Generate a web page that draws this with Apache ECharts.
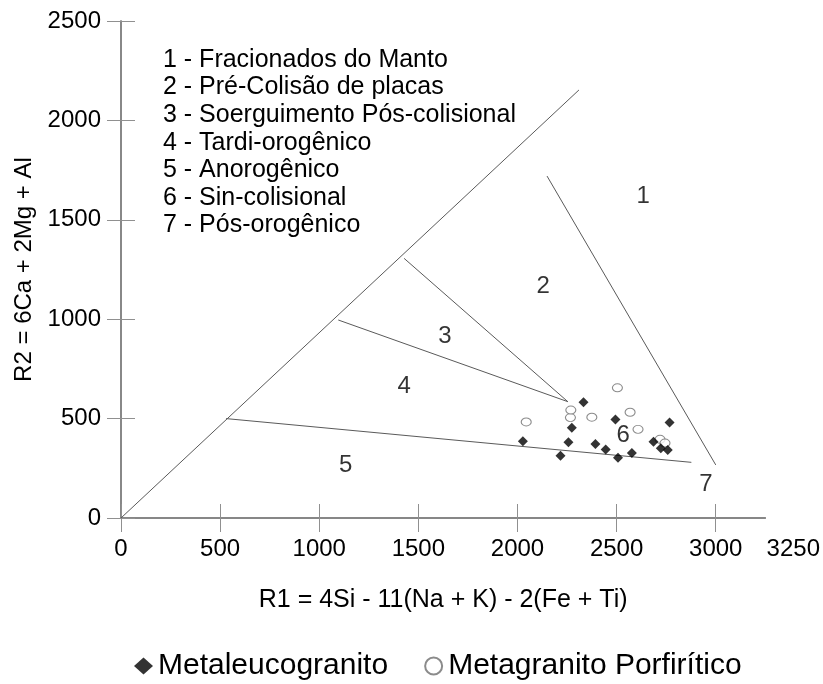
<!DOCTYPE html>
<html>
<head>
<meta charset="utf-8">
<script src="https://cdn.jsdelivr.net/npm/echarts@6/dist/echarts.min.js"></script>
<style>html,body{margin:0;padding:0;background:#fff}#c{width:823px;height:684px}</style>
</head>
<body>
<div id="c"></div>
<script>
// Sample data (R1, R2)
var metaleucogranito = [
  [2027,386],[2217,313],[2257,381],[2274,454],[2333,582],[2393,372],[2445,344],
  [2494,496],[2507,303],[2577,327],[2686,384],[2723,351],[2758,342],[2767,481]
];
var metagranitoPorfiritico = [
  [2044,483],[2267,505],[2269,543],[2375,507],[2504,655],[2568,532],[2608,446],[2719,396],[2744,377]
];
// Field boundary lines
var boundaryDiagonal = [[0,0],[2310,2153]];
var boundary1 = [[2149,1720],[3000,267]];
var boundary2 = [[1428,1306],[2254,585]];
var boundary3 = [[1096,996],[2254,585]];
var boundary5 = [[530,500],[2877,280]];
// Field number labels
var fieldLabels = [
  ['1',[2634,1617]],['2',[2129,1163]],['3',[1634,912]],['4',[1428,660]],
  ['5',[1133,267]],['6',[2533,418]],['7',[2950,171]]
];
var fieldNames = [
  '1 - Fracionados do Manto',
  '2 - Pré-Colisão de placas',
  '3 - Soerguimento Pós-colisional',
  '4 - Tardi-orogênico',
  '5 - Anorogênico',
  '6 - Sin-colisional',
  '7 - Pós-orogênico'
];
var xTickValues = [0,500,1000,1500,2000,2500,3000];
var xLabelValues = [0,500,1000,1500,2000,2500,3000,3250];
var yTickValues = [0,500,1000,1500,2000,2500];
var xTitle = 'R1 = 4Si - 11(Na + K) - 2(Fe + Ti)';
var yTitle = 'R2 = 6Ca + 2Mg + Al';

var FONT = "'Liberation Sans', Arial, sans-serif";
var AXC = '#808080';
var chart = echarts.init(document.getElementById('c'), null, {renderer:'canvas'});
var lineStyle = {color:'#5a5a5a', width:1};
function lineSeries(d){
  return {type:'line', data:d, symbol:'none', silent:true, lineStyle:lineStyle, z:2, animation:false};
}
var graphics = fieldNames.map(function(t,i){
  return {type:'text', left:163, top:60.5 + i*27.6 - 13, style:{text:t, font:'25px '+FONT, fill:'#000'}};
});
var tick = {show:true, inside:true, length:14, lineStyle:{color:'#909090', width:1}};
chart.setOption({
  animation:false,
  backgroundColor:'#fff',
  grid:{left:121, right:57, top:21, bottom:166},
  xAxis:[{
    type:'value', min:0, max:3250, position:'bottom',
    name:xTitle, nameLocation:'middle', nameGap:70,
    nameTextStyle:{fontFamily:FONT, fontSize:25, color:'#000'},
    axisLine:{show:true, lineStyle:{color:AXC, width:1.5}},
    axisTick:Object.assign({customValues:xTickValues}, tick),
    axisLabel:{customValues:xLabelValues, fontFamily:FONT, fontSize:24, color:'#000', margin:19,
      formatter:function(v){ return v === 3250 ? '{r|' + v + '}' : String(v); },
      rich:{r:{fontFamily:FONT, fontSize:24, color:'#000', padding:[0,0,0,56]}}},
    splitLine:{show:false}
  },{
    type:'value', min:0, max:3250, position:'top',
    axisLine:{show:true, lineStyle:{color:AXC, width:1.5}},
    axisTick:Object.assign({customValues:xTickValues}, tick),
    axisLabel:{show:false}, splitLine:{show:false}
  }],
  yAxis:[{
    type:'value', min:0, max:2500, interval:500, position:'left',
    name:yTitle, nameLocation:'middle', nameGap:80, nameRotate:90,
    nameTextStyle:{fontFamily:FONT, fontSize:24, color:'#000'},
    axisLine:{show:true, lineStyle:{color:AXC, width:1.5}},
    axisTick:Object.assign({customValues:yTickValues}, tick),
    axisLabel:{customValues:yTickValues, fontFamily:FONT, fontSize:24, color:'#000', margin:20,
      formatter:function(v){return String(v);}},
    splitLine:{show:false}
  },{
    type:'value', min:0, max:2500, interval:500, position:'right',
    axisLine:{show:true, lineStyle:{color:AXC, width:1.5}},
    axisTick:Object.assign({customValues:yTickValues}, tick),
    axisLabel:{show:false}, splitLine:{show:false}
  }],
  legend:{
    left:129, top:646, itemWidth:19, itemHeight:17, itemGap:36,
    textStyle:{fontFamily:FONT, fontSize:30, color:'#000'},
    data:[{name:'Metaleucogranito', icon:'diamond'},{name:'Metagranito Porfirítico', icon:'circle'}]
  },
  graphic:graphics,
  series:[
    lineSeries(boundaryDiagonal),
    lineSeries(boundary1),
    lineSeries(boundary2),
    lineSeries(boundary3),
    lineSeries(boundary5),
    {type:'scatter', data:fieldLabels.map(function(f){return {value:f[1], name:f[0]};}),
     symbolSize:0, silent:true,
     label:{show:true, position:'inside', formatter:'{b}', fontFamily:FONT, fontSize:24, color:'#000'}},
    {name:'Metaleucogranito', type:'scatter', data:metaleucogranito, symbol:'diamond', symbolSize:10,
     itemStyle:{color:'#000'}, z:5},
    {name:'Metagranito Porfirítico', type:'scatter', data:metagranitoPorfiritico, symbol:'circle', symbolSize:[10,8],
     itemStyle:{color:'#fff', borderColor:'#6e6e6e', borderWidth:1}, z:4}
  ]
});
</script>
</body>
</html>
